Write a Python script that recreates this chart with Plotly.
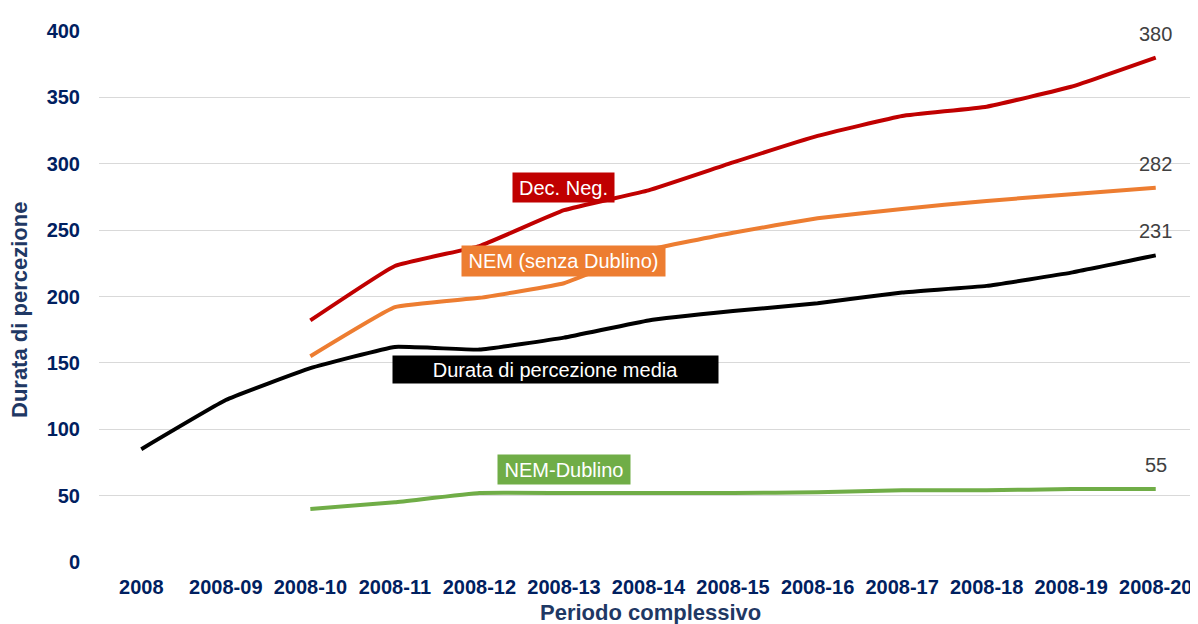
import plotly.graph_objects as go

categories = ["2008", "2008-09", "2008-10", "2008-11", "2008-12", "2008-13", "2008-14",
              "2008-15", "2008-16", "2008-17", "2008-18", "2008-19", "2008-20"]
durata_media = [85, 122, 146, 162, 160, 169, 182, 189, 195, 203, 208, 218, 231]
dec_neg = [None, None, 182, 223, 238, 265, 280, 301, 321, 336, 343, 358, 380]
nem_senza_dublino = [None, None, 155, 192, 199, 210, 235, 248, 259, 266, 272, 277, 282]
nem_dublino = [None, None, 40, 45, 52, 52, 52, 52, 52.5, 54, 54, 55, 55]

series = [
    ("Durata di percezione media", durata_media, "#000000"),
    ("Dec. Neg.", dec_neg, "#C00000"),
    ("NEM (senza Dublino)", nem_senza_dublino, "#ED7D31"),
    ("NEM-Dublino", nem_dublino, "#70AD47"),
]

# label boxes: (text, color, x index, y value, width px, height px)
label_boxes = [
    ("Dec. Neg.", "#C00000", 5, 282.3, 101, 29),
    ("NEM (senza Dublino)", "#ED7D31", 5, 227, 203, 30),
    ("Durata di percezione media", "#000000", 4.9, 145.2, 325, 27),
    ("NEM-Dublino", "#70AD47", 5, 69.9, 132, 29),
]

FONT = "Liberation Sans, Arial, sans-serif"

# the page body adds an 8 px offset; plot area targets x 99..1198, y 31..562
W, H = 1190, 616
ML, MR, MT, MB = 91, 0, 23, 62
PW = W - ML - MR
PH = H - MT - MB

fig = go.Figure()
xs = list(range(len(categories)))
for name, vals, color in series:
    fig.add_trace(go.Scatter(
        x=xs, y=vals, mode="lines", name=name,
        line=dict(color=color, width=4, shape="spline", smoothing=0.3),
        connectgaps=False, showlegend=False, hoverinfo="skip",
    ))

annotations = []
# end-value labels
for name, vals, color in series:
    annotations.append(dict(
        x=xs[-1], y=vals[-1], xref="x", yref="y",
        text=str(int(vals[-1])), showarrow=False,
        yshift=24, yanchor="middle",
        font=dict(family=FONT, size=20, color="#404040"),
    ))

for text, color, xi, yv, w, h in label_boxes:
    annotations.append(dict(
        x=xi, y=yv, xref="x", yref="y", text=text, showarrow=False,
        bgcolor=color, width=w, height=h, borderpad=0, align="center",
        valign="middle",
        font=dict(family=FONT, size=20, color="#FFFFFF"),
    ))

# axis titles (page pixel targets converted to paper fractions)
annotations.append(dict(
    x=(20 - 99) / PW, y=(562 - 310) / PH, xref="paper", yref="paper",
    text="<b>Durata di percezione</b>", textangle=-90, showarrow=False,
    xanchor="center", yanchor="middle",
    font=dict(family=FONT, size=22, color="#1F3864"),
))
annotations.append(dict(
    x=(650 - 99) / PW, y=-(612 - 562) / PH, xref="paper", yref="paper",
    text="<b>Periodo complessivo</b>", showarrow=False,
    xanchor="center", yanchor="middle",
    font=dict(family=FONT, size=22, color="#1F3864"),
))

fig.update_layout(
    width=W, height=H,
    margin=dict(l=ML, r=MR, t=MT, b=MB),
    paper_bgcolor="white", plot_bgcolor="white",
    annotations=annotations,
    xaxis=dict(
        range=[-0.5, 12.5],
        tickmode="array", tickvals=xs, ticktext=[f"<b>{c}</b>" for c in categories],
        tickfont=dict(family=FONT, size=20, color="#002060"),
        showgrid=False, zeroline=False, showline=False, ticks="",
        ticklabelstandoff=11,
    ),
    yaxis=dict(
        range=[0, 400], tickvals=[0, 50, 100, 150, 200, 250, 300, 350, 400],
        ticktext=[f"<b>{v}</b>" for v in [0, 50, 100, 150, 200, 250, 300, 350, 400]],
        tickfont=dict(family=FONT, size=20, color="#002060"),
        showgrid=True, gridcolor="#D9D9D9", gridwidth=1.3,
        zeroline=False, showline=False, ticks="",
        ticklabelstandoff=18,
    ),
)

fig.write_html("out.html")
